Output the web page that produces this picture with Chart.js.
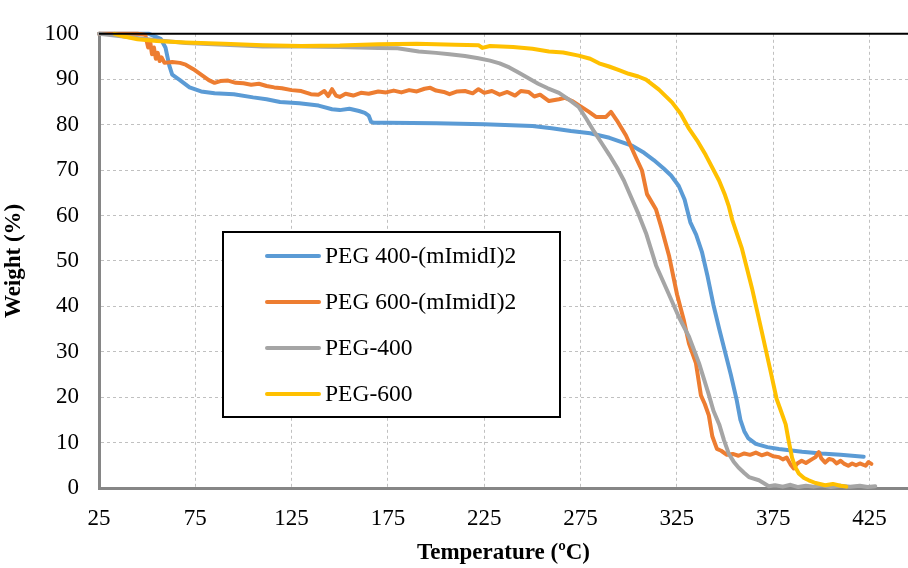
<!DOCTYPE html>
<html>
<head>
<meta charset="utf-8">
<script src="https://cdn.jsdelivr.net/npm/chart.js@4.4.1/dist/chart.umd.min.js"></script>
<style>
  html, body { margin: 0; padding: 0; background: #fff; }
</style>
</head>
<body>
<canvas id="chart" width="908" height="568"></canvas>
<script>
'use strict';

var seriesNames = ['PEG 400-(mImidI)2', 'PEG 600-(mImidI)2', 'PEG-400', 'PEG-600'];
var seriesColors = ['#5B9BD5', '#ED7D31', '#A5A5A5', '#FFC000'];
var xTicks = [25, 75, 125, 175, 225, 275, 325, 375, 425];
var yTicks = [0, 10, 20, 30, 40, 50, 60, 70, 80, 90, 100];

// PEG 400-(mImidI)2
var blueT = [25, 40, 51, 57, 59.5, 61.5, 63, 67, 72, 78, 85, 95, 105, 112, 119, 129, 139, 146, 150, 155, 160, 163, 165, 166.3, 168, 175, 200, 225, 250, 260, 270, 280, 290, 296, 302, 308, 313, 318, 322, 326, 329, 332, 335, 338, 341, 344, 347, 350, 353, 356, 358, 360, 362, 366, 372, 378, 390, 400, 410, 422];
var blueW = [100, 100, 100, 98.9, 97, 93, 91, 89.8, 88.2, 87.3, 86.9, 86.7, 86, 85.6, 85, 84.7, 84.2, 83.4, 83.2, 83.5, 83, 82.6, 82, 80.6, 80.4, 80.4, 80.3, 80.1, 79.7, 79.2, 78.6, 78.1, 77.1, 76.2, 75.3, 73.8, 72.2, 70.4, 68.8, 66.5, 63.5, 58.5, 55.8, 52, 46.5, 40.3, 35, 30, 25, 19.5, 15, 12.5, 11, 9.7, 9, 8.6, 8, 7.6, 7.3, 6.9];

// PEG 600-(mImidI)2
var orangeT = [25, 45, 49, 50.5, 51.5, 52.5, 53.5, 54.5, 55.5, 56.5, 57.5, 59, 63, 67, 70, 74, 78, 82, 85, 88, 92, 96, 100, 104, 108, 112, 116, 120, 125, 130, 135, 139, 142, 144, 146, 148, 150, 153, 157, 161, 165, 170, 174, 178, 182, 186, 190, 194, 197, 200, 204, 207, 211, 215, 219, 222, 225, 229, 233, 237, 241, 244, 248, 251, 254, 258.6, 263.8, 267, 270.6, 275.8, 279.4, 283, 288.2, 290.8, 293.9, 298.6, 303.8, 306.9, 309.5, 314.2, 316.8, 320.9, 325.1, 328.7, 331.3, 334.9, 337.5, 339.5, 341.6, 343.4, 345.8, 348, 351, 354, 357, 360, 363, 366, 369, 372, 375, 378, 380, 382, 384, 385.7, 387.5, 389.8, 392, 395, 397, 398.7, 400, 402, 404, 406, 408, 410, 412, 414, 416, 418, 420, 423, 424.5, 426];
var orangeW = [100, 100, 99.8, 97, 98.5, 95.5, 97, 94.5, 95.8, 94, 94.8, 93.6, 93.8, 93.6, 93.2, 92.2, 91, 89.8, 89.2, 89.6, 89.7, 89.2, 89.1, 88.8, 89, 88.5, 88.2, 88, 87.6, 87.4, 86.7, 86.6, 87.4, 86.3, 87.8, 86.4, 86.1, 86.8, 86.4, 87, 86.8, 87.3, 87.1, 87.5, 87.1, 87.6, 87.3, 87.9, 88.1, 87.5, 87.2, 86.7, 87.3, 87.4, 86.9, 87.8, 87, 87.4, 86.6, 87.2, 86.4, 87.4, 87.2, 86.2, 86.6, 85.2, 85.6, 85.9, 85.2, 83.8, 82.8, 81.7, 81.7, 82.8, 80.9, 77.6, 72.7, 69.9, 64.7, 61.3, 57.6, 51.2, 42.6, 36.8, 31.8, 27.5, 20.4, 18.5, 16, 11.4, 8.6, 8.2, 7.3, 7.5, 7.1, 7.6, 7.3, 7.8, 7.2, 7.6, 7, 6.8, 6.3, 6.7, 5.2, 4.3, 5.4, 6, 5.5, 6.3, 6.8, 7.9, 6.5, 5.6, 6.4, 6.2, 5.4, 6, 5.3, 4.9, 5.4, 5, 5.4, 4.9, 5.7, 5.3];

// PEG-400
var grayT = [25, 40, 55, 70, 90, 110, 130, 150, 170, 180, 191, 200, 207, 215, 222, 228, 233, 238, 243, 248, 253, 258, 263.8, 269, 274, 278, 282, 286, 290, 294, 297.5, 301, 305, 309, 314.2, 320.9, 326.1, 331.3, 336.5, 341.7, 344, 347, 349.5, 352, 354.5, 357, 360, 362.4, 367.6, 370, 372.7, 376, 380, 384, 388, 392, 396, 400, 405, 410, 415, 420, 424, 428];
var grayW = [100, 99.3, 98.6, 98, 97.6, 97.2, 97.2, 97.1, 96.9, 96.8, 96.1, 95.8, 95.5, 95.1, 94.6, 94.1, 93.5, 92.6, 91.4, 90.2, 89, 88, 87, 85.5, 83.9, 81.3, 78.5, 75.9, 73.3, 70.5, 67.7, 64.3, 60.4, 56.1, 49, 42.6, 37.6, 33.3, 27.5, 20.4, 17, 14, 10.5, 7.5, 5.8, 4.5, 3.3, 2.4, 1.7, 1.1, 0.4, 0.6, 0.3, 0.7, 0.2, 0.5, 0.3, 0.6, 0.2, 0.5, 0.3, 0.5, 0.2, 0.4];

// PEG-600
var yellowT = [33, 38, 45, 55, 70, 90, 110, 130, 150, 170, 190, 210, 222, 224, 228, 240, 250, 258.6, 266, 274, 280, 284.6, 289.8, 295, 300, 305, 309, 315.7, 322.5, 327, 331.3, 336, 340, 346.9, 350, 352, 353.7, 358.8, 364, 369, 373.5, 376.8, 379, 381.5, 383, 384.8, 386.5, 388.3, 391, 393.5, 397, 402, 406, 410, 413];
var yellowW = [100, 99.4, 98.8, 98.4, 98.1, 97.8, 97.5, 97.3, 97.4, 97.7, 97.8, 97.6, 97.5, 96.9, 97.3, 97.1, 96.7, 96.1, 95.9, 95.2, 94.5, 93.5, 92.8, 92, 91.2, 90.6, 89.9, 87.7, 84.9, 82.4, 79.1, 76.2, 73.3, 67.7, 64.5, 62, 59.1, 52.7, 44, 34.6, 26, 19.6, 17, 14, 10.5, 6.7, 4.6, 3.2, 2.2, 1.7, 1.1, 0.6, 0.9, 0.5, 0.3];

function pairs(ts, ws) {
  return ts.map(function (t, i) { return { x: t, y: ws[i] }; });
}

var allT = [blueT, orangeT, grayT, yellowT];
var allW = [blueW, orangeW, grayW, yellowW];

var datasets = seriesNames.map(function (name, i) {
  return {
    label: name,
    data: pairs(allT[i], allW[i]),
    borderColor: seriesColors[i],
    backgroundColor: seriesColors[i],
    borderWidth: 4,
    borderCapStyle: 'round',
    borderJoinStyle: 'round',
    pointRadius: 0,
    tension: 0,
    fill: false,
    clip: 4,
    order: 4 - i
  };
});

var serif = '"Liberation Serif", "Times New Roman", serif';

// legend box drawn inside the plot, like the original
var legendBox = {
  id: 'legendBox',
  afterDatasetsDraw: function (chart) {
    var c = chart.ctx;
    c.save();
    c.fillStyle = '#fff';
    c.fillRect(223, 232, 337, 185);
    c.lineWidth = 2;
    c.strokeStyle = '#000';
    c.strokeRect(223, 232, 337, 185);
    c.font = '23.5px ' + serif;
    c.textBaseline = 'middle';
    c.lineCap = 'round';
    chart.data.datasets.forEach(function (ds, i) {
      var y = 256 + i * 46;
      c.strokeStyle = ds.borderColor;
      c.lineWidth = 4;
      c.beginPath();
      c.moveTo(267, y);
      c.lineTo(319, y);
      c.stroke();
      c.fillStyle = '#000';
      c.fillText(ds.label, 325, y + 1);
    });
    c.restore();
  }
};

// black line along the top of the plot
var topLine = {
  id: 'topLine',
  afterDraw: function (chart) {
    var a = chart.chartArea, c = chart.ctx;
    c.save();
    c.strokeStyle = '#000';
    c.lineWidth = 2;
    c.beginPath();
    c.moveTo(a.left, a.top);
    c.lineTo(a.right, a.top);
    c.stroke();
    c.restore();
  }
};

var ctx = document.getElementById('chart').getContext('2d');
var chart = new Chart(ctx, {
  type: 'line',
  data: { datasets: datasets },
  plugins: [legendBox, topLine],
  options: {
    responsive: false,
    animation: false,
    devicePixelRatio: 1,
    layout: { padding: { top: 23, right: 0, left: 0, bottom: 0 } },
    plugins: {
      legend: { display: false },
      tooltip: { enabled: false }
    },
    scales: {
      x: {
        type: 'linear',
        min: 25,
        max: 445,
        afterBuildTicks: function (s) {
          s.ticks = xTicks.map(function (v) { return { value: v }; });
        },
        afterFit: function (s) { s.height = 80; },
        grid: { color: '#c0c0c0', lineWidth: 1, drawTicks: false },
        border: { display: true, color: '#868686', width: 3, dash: [3, 3] },
        ticks: {
          padding: 17,
          color: '#000',
          maxRotation: 0,
          font: { family: serif, size: 23 }
        },
        title: {
          display: true,
          text: 'Temperature (ºC)',
          color: '#000',
          padding: { top: 0, bottom: 1 },
          font: { family: serif, size: 23, weight: 'bold' }
        }
      },
      y: {
        min: 0,
        max: 100,
        afterBuildTicks: function (s) {
          s.ticks = yTicks.map(function (v) { return { value: v }; });
        },
        afterFit: function (s) { s.width = 99; },
        grid: {
          color: function (c) { return c.tick && c.tick.value === 100 ? 'rgba(0,0,0,0)' : '#c0c0c0'; },
          lineWidth: 1,
          drawTicks: false
        },
        border: { display: true, color: '#868686', width: 3, dash: [3, 3] },
        ticks: {
          padding: 20,
          color: '#000',
          font: { family: serif, size: 23 }
        },
        title: {
          display: true,
          text: 'Weight (%)',
          color: '#000',
          padding: { top: 0, bottom: 8 },
          font: { family: serif, size: 23, weight: 'bold' }
        }
      }
    }
  }
});
</script>
</body>
</html>
